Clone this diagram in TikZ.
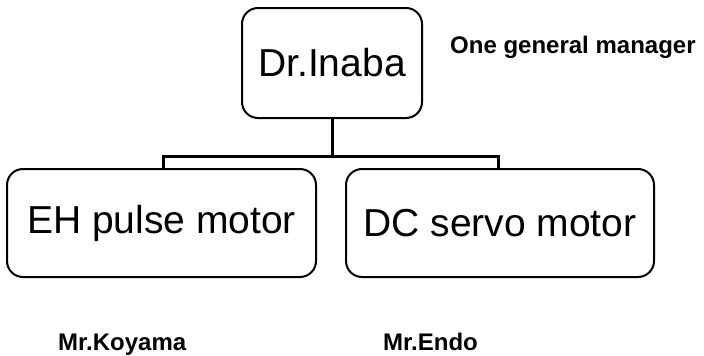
\documentclass[tikz,border=0pt]{standalone}
\usepackage{fontspec}
\setmainfont{Liberation Sans}
\usepackage{tikz}
\tikzstyle{post}=[draw, line width=2pt, rounded corners=16pt, inner sep=0pt, font=\fontsize{39}{45}\selectfont]
\tikzstyle{note}=[inner sep=0pt, font=\bfseries\fontsize{24}{28}\selectfont]

\begin{document}
\begin{tikzpicture}[x=1pt, y=-1pt]
        \useasboundingbox (0,0) rectangle (704,356);
        %% Jefe
        \node[post, minimum width=180pt, minimum height=110pt] (inaba) at (332, 63) {Dr.Inaba};
        \node[note, anchor=base west] (gm) at (450, 53) {One general manager};
        %% Grupos
        \node[post, minimum width=309pt, minimum height=108pt] (pulse) at (161.5, 223) {EH pulse motor};
        \node[post, minimum width=308pt, minimum height=108pt] (servo) at (500, 223) {DC servo motor};
        % Encargados
        \node[note, anchor=base west] (koyama) at (58, 350) {Mr.Koyama};
        \node[note, anchor=base west] (endo) at (383, 350) {Mr.Endo};
        %% Lineas
        \coordinate (bus) at (332, 156);
        \coordinate (pulse top) at (163, 169);
        \coordinate (servo top) at (498, 169);
        \draw[line width=3pt] (inaba) -- (bus);
        \draw[line width=3pt] (pulse top) |- (bus) -| (servo top);
    \end{tikzpicture}
\end{document}
